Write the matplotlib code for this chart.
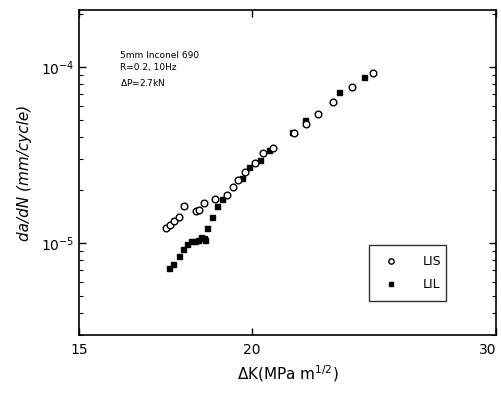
import numpy as np
import matplotlib
matplotlib.use("Agg")
import matplotlib.pyplot as plt
from matplotlib.ticker import FixedLocator, NullFormatter, LogLocator, NullLocator

# Data ------------------------------------------------
# LIS (open circles)
lis_dk = [17.34, 17.45, 17.57, 17.70, 17.87, 18.22, 18.30, 18.47, 18.79, 19.18,
          19.37, 19.55, 19.77, 20.10, 20.35, 20.70, 21.45, 21.88, 22.31, 22.89,
          23.61, 24.47]
lis_rate = [1.21e-5, 1.27e-5, 1.34e-5, 1.41e-5, 1.61e-5, 1.52e-5, 1.53e-5, 1.68e-5,
            1.77e-5, 1.87e-5, 2.08e-5, 2.27e-5, 2.54e-5, 2.83e-5, 3.24e-5, 3.48e-5,
            4.23e-5, 4.71e-5, 5.40e-5, 6.31e-5, 7.72e-5, 9.26e-5]

# LIL (filled squares)
lil_dk = [17.42, 17.53, 17.70, 17.84, 17.96, 18.07, 18.19, 18.29, 18.37, 18.45,
          18.49, 18.57, 18.70, 18.86, 19.04, 19.66, 19.90, 20.25, 20.58, 21.36,
          21.84, 23.12, 24.09]
lil_rate = [7.18e-6, 7.62e-6, 8.42e-6, 9.18e-6, 9.91e-6, 1.03e-5, 1.02e-5, 1.04e-5,
            1.08e-5, 1.06e-5, 1.04e-5, 1.22e-5, 1.41e-5, 1.63e-5, 1.77e-5, 2.35e-5,
            2.69e-5, 2.97e-5, 3.38e-5, 4.27e-5, 4.98e-5, 7.15e-5, 8.79e-5]

x_ticks = [15, 20, 30]
x_ticklabels = ["15", "20", "30"]

# Figure ----------------------------------------------
fig = plt.figure(figsize=(5.01, 3.94), dpi=100)
ax = fig.add_axes([79/501, 59/394, 417/501, 325/394])

ax.plot(lis_dk, lis_rate, 'o', mfc='white', mec='black', mew=1.0, ms=4.8,
        ls='none', label='LIS', zorder=3)
ax.plot(lil_dk, lil_rate, 's', mfc='black', mec='black', ms=3.6,
        ls='none', label='LIL', zorder=2)

ax.set_xscale('log')
ax.set_yscale('log')
ax.set_xlim(15, 30)
ax.set_ylim(3e-6, 2.1e-4)

# Axis ticks ------------------------------------------
ax.xaxis.set_major_locator(FixedLocator(x_ticks))
ax.set_xticklabels(x_ticklabels)
ax.xaxis.set_minor_locator(NullLocator())
ax.xaxis.set_minor_formatter(NullFormatter())
ax.get_xticklabels()[-1].set_horizontalalignment('right')

ax.yaxis.set_major_locator(LogLocator(base=10))
ax.yaxis.set_minor_locator(LogLocator(base=10, subs=np.arange(2, 10)))
ax.yaxis.set_minor_formatter(NullFormatter())

ax.tick_params(axis='both', which='both', direction='in', top=True, right=True)
ax.tick_params(axis='both', which='major', length=5, width=1.0, labelsize=10)
ax.tick_params(axis='y', which='minor', length=3, width=0.8)
ax.tick_params(axis='x', which='major', pad=6)

for s in ax.spines.values():
    s.set_linewidth(1.2)

# Labels ----------------------------------------------
ax.set_xlabel(r"$\Delta$K(MPa m$^{1/2}$)", fontsize=11, labelpad=4)
ax.set_ylabel("da/dN (mm/cycle)", fontsize=11, style='italic', labelpad=6)

ax.text(0.098, 0.875, "5mm Inconel 690\nR=0.2, 10Hz\n$\\Delta$P=2.7kN",
        transform=ax.transAxes, fontsize=6.5, va='top', ha='left', linespacing=1.5)

leg = ax.legend(loc='lower left', bbox_to_anchor=(0.68, 0.085, 0.216, 0.169),
                mode='expand', fontsize=9, frameon=True, fancybox=False,
                edgecolor='black', handletextpad=1.5, borderpad=0.8,
                labelspacing=0.8, markerscale=0.8)
leg.get_frame().set_linewidth(1.0)

plt.savefig("out.png", dpi=100)
